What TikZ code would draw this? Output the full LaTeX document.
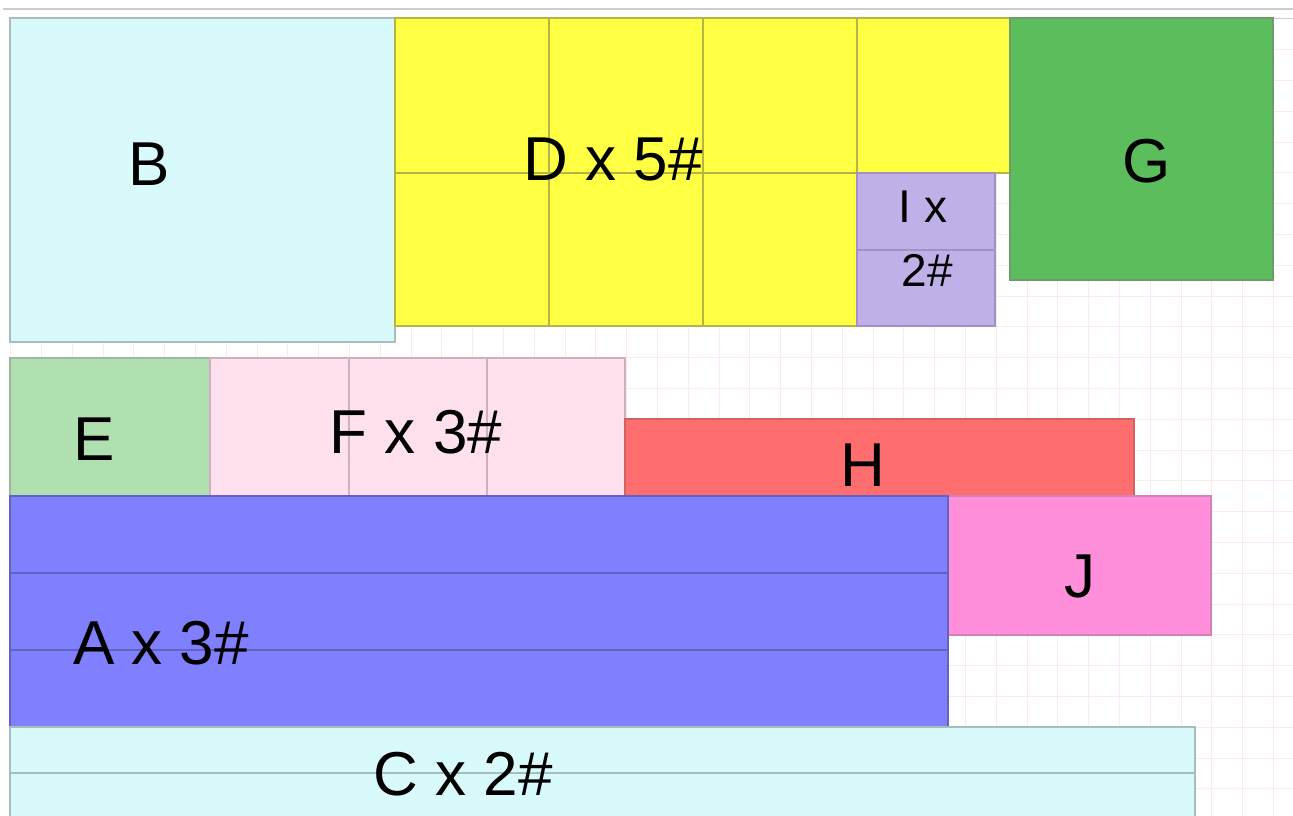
\documentclass[tikz,border=0pt]{standalone}
\usepackage{fontspec}
\setmainfont{Liberation Sans}
\definecolor{gridc}{HTML}{FCE9ED}
\definecolor{cyanF}{HTML}{D9FAFA}\definecolor{cyanD}{HTML}{A8BDBD}
\definecolor{yelF}{HTML}{FFFF44}\definecolor{yelD}{HTML}{B5B545}
\definecolor{grnF}{HTML}{5CBD5C}\definecolor{grnD}{HTML}{6E9A6E}
\definecolor{purF}{HTML}{C0B0E8}\definecolor{purD}{HTML}{A292C4}
\definecolor{lgrF}{HTML}{B0DFB0}\definecolor{lgrD}{HTML}{9DB89D}
\definecolor{pnkF}{HTML}{FFE0EE}\definecolor{pnkD}{HTML}{CFB0BF}
\definecolor{redF}{HTML}{FF6E6E}\definecolor{redD}{HTML}{D06262}
\definecolor{bluF}{HTML}{8080FF}\definecolor{bluD}{HTML}{6262C2}
\definecolor{magF}{HTML}{FF8EDB}\definecolor{magD}{HTML}{D282B4}
\definecolor{topl}{HTML}{CCCCCC}
\tikzset{
  gridline/.style={draw=gridc, line width=0.9pt},
  cell/.style={line width=1.1pt},
  lbl/.style={font=\fontsize{62}{62}\selectfont, anchor=base, inner sep=0pt},
  lbls/.style={font=\fontsize{46}{46}\selectfont, anchor=base, inner sep=0pt},
}
\begin{document}
\begin{tikzpicture}[x=1pt,y=-1pt]
\useasboundingbox (0,0) rectangle (1293,816);
\fill[white] (0,0) rectangle (1293,816);
% grid
\foreach \i in {0,...,41} \draw[gridline] ({10.6+30.8*\i},19) -- ({10.6+30.8*\i},816);
\foreach \j in {0,...,26} \draw[gridline] (10.6,{18.8+30.8*\j}) -- (1293,{18.8+30.8*\j});
\draw[topl, line width=1.6pt] (3,9) -- (1293,9);
\draw[topl, line width=1pt] (10,19) -- (1293,19);
% B
\filldraw[cell, fill=cyanF, draw=cyanD] (10,18) rectangle (395,342);
% D cells
\foreach \a/\b in {395/549,549/703,703/857,857/1010}
  \filldraw[cell, fill=yelF, draw=yelD] (\a,18) rectangle (\b,173);
\foreach \a/\b in {395/549,549/703,703/857}
  \filldraw[cell, fill=yelF, draw=yelD] (\a,173) rectangle (\b,326);
% I
\filldraw[cell, fill=purF, draw=purD] (857,173) rectangle (995,250);
\filldraw[cell, fill=purF, draw=purD] (857,250) rectangle (995,326);
% G
\filldraw[cell, fill=grnF, draw=grnD] (1010,18) rectangle (1273,280);
% E
\filldraw[cell, fill=lgrF, draw=lgrD] (10,358) rectangle (210,496);
% F
\foreach \a/\b in {210/349,349/487,487/625}
  \filldraw[cell, fill=pnkF, draw=pnkD] (\a,358) rectangle (\b,496);
% H
\filldraw[cell, fill=redF, draw=redD] (625,419) rectangle (1134,496);
% J
\filldraw[cell, fill=magF, draw=magD] (948,496) rectangle (1211,635);
% A
\foreach \a/\b in {496/573,573/650,650/727}
  \filldraw[cell, fill=bluF, draw=bluD] (10,\a) rectangle (948,\b);
% C
\filldraw[cell, fill=cyanF, draw=cyanD] (10,727) rectangle (1195,773);
\filldraw[cell, fill=cyanF, draw=cyanD] (10,773) rectangle (1195,830);
% labels
\node[lbl] (lB) at (149,185) {B};
\node[lbl] (lD) at (613,180) {D x 5\#};
\node[lbl] (lG) at (1147,182) {G};
\node[lbls] (lI1) at (923,222) {I x};
\node[lbls] (lI2) at (927,286) {2\#};
\node[lbl] (lE) at (94,460) {E};
\node[lbl] (lF) at (416,453) {F x 3\#};
\node[lbl] (lH) at (863,486) {H};
\node[lbl] (lJ) at (1080,597) {J};
\node[lbl] (lA) at (161,664) {A x 3\#};
\node[lbl] (lC) at (463,795) {C x 2\#};
\end{tikzpicture}
\end{document}
